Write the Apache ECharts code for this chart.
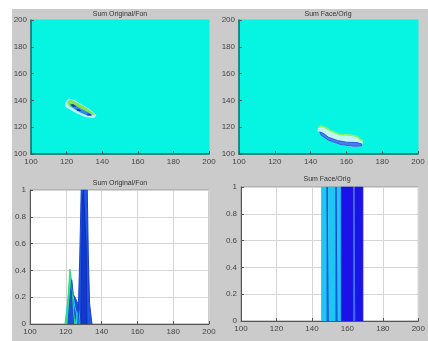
<!DOCTYPE html>
<html><head><meta charset="utf-8">
<script src="https://cdn.jsdelivr.net/npm/echarts@6/dist/echarts.min.js"></script>
<style>html,body{margin:0;padding:0;background:#fff}#c{width:428px;height:341px}</style>
</head><body><div id="c"></div>
<script>
// ---- titles & ticks ----
const titles = ['Sum Original/Fon', 'Sum Face/Orig', 'Sum Original/Fon', 'Sum Face/Orig'];
const imgTicks = [100, 120, 140, 160, 180, 200];
const profTicksY = [0, 0.2, 0.4, 0.6, 0.8, 1];

// ---- top-left image contours (x, y in image coordinates) ----
const tlOuter = [[119.5,138],[121,141],[124,140],[128,137],[133,133],[136.5,129],[135.5,127.3],[131,127.8],[126,130.5],[122,133.5],[119.5,135.5]];
const tlGreen = [[120.3,138.5],[121.5,140.7],[124,139.8],[128,136.8],[133,132.8],[135.8,129.5],[133,129],[129,131],[125,133.5],[121.5,135.5]];
const tlBlue  = [[122,137.5],[124,137],[127,134.5],[130,132.5],[133,130.5],[134.5,128.8],[132,128.6],[128,130.8],[125,133],[122.5,135.5]];
const tlDark1 = [[122.5,137.3],[124,137],[125.5,135.5],[124,135],[122.8,136]];
const tlDark2 = [[125.5,134],[127.5,133.3],[128,132],[126,132]];
const tlDark3 = [[131.5,130.3],[133.5,129.8],[134,128.7],[131.8,128.7]];

// ---- top-right image contours ----
const trOuter = [[144.5,119.5],[145.5,121],[148,120],[151,117.5],[156,114.5],[163,114],[166,113],[169,109.5],[168.5,106],[164,105.5],[157,107],[150,110.5],[146,114.5],[144,117.5]];
const trGreen = [[144.5,119.5],[145.5,121],[148,120],[151,117.5],[156,114.5],[163,114],[166,113],[169,109.5]];
const trBlue  = [[145,116.5],[147,115.5],[150,112.5],[155,110],[160,108.8],[166,108.5],[168.5,107.5],[168.5,106],[164,105.8],[157,107],[150,110.3],[146,114]];

// ---- bottom-left profile curves (x, value) ----
const blCyan  = [[119.5,0],[121.3,0.2],[122.5,0.36],[123.5,0.26],[125,0.13],[126.5,0.05],[127.5,0]];
const blGreen = [[120.3,0],[121.5,0.25],[122.3,0.41],[122.9,0.42],[123.5,0.3],[124.3,0.1],[125,0]];
const blBlue  = [[121.2,0],[122.5,0.22],[123.3,0.33],[124.2,0.22],[125.5,0.19],[126.8,0.15],[127.6,0.08],[128.2,0]];
const blSmall = [[125.2,0],[126.3,0.07],[127.2,0.1],[128.2,0]];
const blTall  = [[126.8,0],[127.8,0.5],[128.6,1],[132,1],[132.6,0.5],[133.3,0.15],[134.6,0]];
const blTallIn = [[128.4,0],[129.3,0.95],[129.9,1],[130.7,1],[131.3,0.6],[131.8,0]];

// ---- bottom-right profile bands: [from, to] ----
const brCyan  = [[145.5,148.6],[149.2,153.6],[154.2,156.6]];
const brLine  = [[148.6,149.2],[153.6,154.2]];
const brDark  = [[156.6,163.6],[164.2,168.7]];
const brLight = [[163.6,164.2]];

const chart = echarts.init(document.getElementById('c'), null, {renderer:'canvas'});
const FONT = 'Liberation Sans';
const lblColor = '#444';

const grids = [
  {left:31, top:20, width:178, height:134},
  {left:239, top:20, width:179, height:134},
  {left:30, top:190, width:179, height:134},
  {left:241, top:187, width:180, height:134}
];
grids.forEach((g,i)=>{
  g.show = true;
  g.backgroundColor = i<2 ? '#05F5E2' : '#ffffff';
  g.borderColor = i<2 ? '#05F5E2' : '#9a9a9a';
  g.borderWidth = 1;
});

function xAx(i){
  return {gridIndex:i, type:'value', min:100, max:200, interval:20,
    axisLine:{show:true, lineStyle:{color: i<2 ? '#1a6a60' : '#555', width: i<2?1.5:1}},
    axisTick:{show:true, inside:true, length:3, lineStyle:{color:'#555'}},
    axisLabel:{fontSize:8, fontFamily:FONT, color:lblColor, margin:4},
    splitLine:{show: i>=2, lineStyle:{color:'#d4d4d4'}}};
}
function yAx(i){
  if(i<2) return {gridIndex:i, type:'value', min:100, max:200, interval:20,
    axisLine:{show:true, lineStyle:{color:'#1a6a60', width:1.5}},
    axisTick:{show:true, inside:true, length:3, lineStyle:{color:'#555'}},
    axisLabel:{fontSize:8, fontFamily:FONT, color:lblColor, margin:4},
    splitLine:{show:false}};
  return {gridIndex:i, type:'value', min:0, max:1, interval:0.2,
    axisLine:{show:true, lineStyle:{color:'#555'}},
    axisTick:{show:true, inside:true, length:3, lineStyle:{color:'#555'}},
    axisLabel:{fontSize:8, fontFamily:FONT, color:lblColor, margin:4,
      formatter:v=>String(+v.toFixed(1))},
    splitLine:{show:true, lineStyle:{color:'#d4d4d4'}}};
}

function poly(i, pts, fill, stroke, lw, closed){
  return {type:'custom', xAxisIndex:i, yAxisIndex:i, coordinateSystem:'cartesian2d',
    data:[[pts[0][0], pts[0][1]]], silent:true, clip:true,
    renderItem:(params, api)=>{
      const p = pts.map(q=>api.coord(q));
      if(closed===false){
        return {type:'polyline', shape:{points:p}, style:{fill:null, stroke:stroke, lineWidth:lw||1}};
      }
      return {type:'polygon', shape:{points:p}, style:{fill:fill, stroke:stroke||null, lineWidth:lw||0}};
    }};
}
function area(i, pts, color, lineColor){
  return {type:'line', xAxisIndex:i, yAxisIndex:i, data:pts, symbol:'none', silent:true,
    lineStyle:{color:lineColor||color, width:1}, areaStyle:{color:color, opacity:1}, z:3};
}
function band(i, r, color){
  return area(i, [[r[0],0],[r[0],1],[r[1],1],[r[1],0]], color, color);
}

const series = [
  poly(0, tlOuter, '#B4EEFF', '#CFF6FF', 1),
  poly(0, tlGreen, '#7EE64A', null, 0),
  poly(0, tlBlue, '#2A8AE8', null, 0),
  poly(0, tlDark1, '#1430C8', null, 0),
  poly(0, tlDark2, '#1430C8', null, 0),
  poly(0, tlDark3, '#1A3ACB', null, 0),
  poly(1, trOuter, '#C0F6F4', '#B8EEFF', 1),
  poly(1, trBlue, '#4A7CF0', '#2A5AE0', 1),
  poly(1, trGreen, null, '#8EF060', 1.6, false),
  area(2, blCyan, '#22D8E8'),
  area(2, blGreen, '#40D890', '#30E060'),
  area(2, blBlue, '#1C50D8'),
  area(2, blSmall, '#22C8F0'),
  area(2, blTall, '#1E58E6', '#1040D0'),
  area(2, blTallIn, '#1438C8', '#1030C0'),
];
brCyan.forEach(r=>series.push(band(3, r, '#1EC6F4')));
brLine.forEach(r=>series.push(band(3, r, '#1848D8')));
brDark.forEach(r=>series.push(band(3, r, '#1A12E6')));
brLight.forEach(r=>series.push(band(3, r, '#3A7AF0')));

const titlePos = [[120,14],[328,14],[120,183],[327,179]];

chart.setOption({
  backgroundColor:'#ffffff',
  animation:false,
  graphic:[
    {type:'rect', shape:{x:12, y:9, width:416, height:332}, style:{fill:'#cbcbcb'}, z:-10, silent:true},
    ...titles.map((t,i)=>({type:'text', x:titlePos[i][0], y:titlePos[i][1],
      style:{text:t, font:'7px '+FONT, fill:'#333', textAlign:'center', textVerticalAlign:'middle'}, z:10, silent:true}))
  ],
  grid:grids,
  xAxis:[0,1,2,3].map(xAx),
  yAxis:[0,1,2,3].map(yAx),
  series:series
});
</script></body></html>
